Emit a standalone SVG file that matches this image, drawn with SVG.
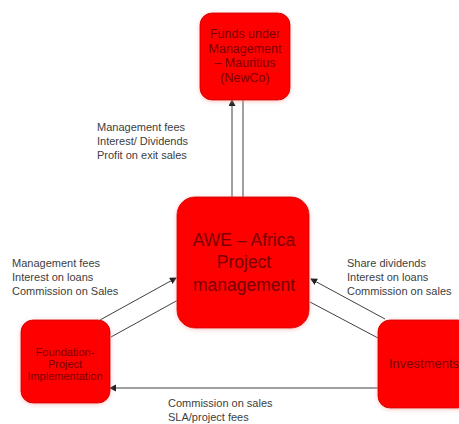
<svg xmlns="http://www.w3.org/2000/svg" width="459" height="424" viewBox="0 0 459 424">
  <style>
    .box { fill: #ff0000; stroke: #d40000; stroke-width: 1; filter: url(#glow); }
    .ntext { font-family: "Liberation Sans", Arial, sans-serif; fill: #7a0000; text-anchor: middle; }
    .label { font-family: "Liberation Sans", Arial, sans-serif; font-size: 11px; fill: #404040; }
    .conn { stroke: #404040; stroke-width: 1; fill: none; }
  </style>
  <defs>
    <filter id="glow" x="-20%" y="-20%" width="140%" height="140%">
      <feGaussianBlur in="SourceAlpha" stdDeviation="2"/>
      <feOffset dx="0" dy="1" result="b"/>
      <feFlood flood-color="#ff9a9a" flood-opacity="0.6"/>
      <feComposite in2="b" operator="in"/>
      <feMerge><feMergeNode/><feMergeNode in="SourceGraphic"/></feMerge>
    </filter>
    <marker id="arrow" markerWidth="8" markerHeight="8" refX="6" refY="3.5" orient="auto" markerUnits="userSpaceOnUse">
      <path d="M0,0 L7,3.5 L0,7 Z" fill="#202020"/>
    </marker>
  </defs>
  <rect width="459" height="424" fill="#ffffff"/>

  <g id="connectors">
    <line class="conn" x1="232" y1="197" x2="232" y2="100" marker-end="url(#arrow)"/>
    <line class="conn" x1="243" y1="100" x2="243" y2="197"/>
    <line class="conn" x1="100" y1="320" x2="176" y2="278" marker-end="url(#arrow)"/>
    <line class="conn" x1="178" y1="300" x2="111" y2="337"/>
    <line class="conn" x1="385" y1="319" x2="311" y2="279" marker-end="url(#arrow)"/>
    <line class="conn" x1="310" y1="302" x2="378" y2="338"/>
    <line class="conn" x1="378" y1="388" x2="110" y2="388" marker-end="url(#arrow)"/>
  </g>

  <g id="labels">
    <text class="label" x="97" y="131">Management fees</text>
    <text class="label" x="97" y="145">Interest/ Dividends</text>
    <text class="label" x="97" y="159">Profit on exit sales</text>
    <text class="label" x="12" y="267">Management fees</text>
    <text class="label" x="12" y="281">Interest on loans</text>
    <text class="label" x="12" y="295">Commission on Sales</text>
    <text class="label" x="347" y="267">Share dividends</text>
    <text class="label" x="347" y="281">Interest on loans</text>
    <text class="label" x="347" y="295">Commission on sales</text>
    <text class="label" x="168" y="407">Commission on sales</text>
    <text class="label" x="168" y="421">SLA/project fees</text>
  </g>

  <g id="node-funds">
    <rect class="box" x="200" y="13" width="90" height="87" rx="12"/>
    <text class="ntext" font-size="12.5" x="245" y="38">Funds under</text>
    <text class="ntext" font-size="12.5" x="245" y="53">Management</text>
    <text class="ntext" font-size="12.5" x="245" y="67">– Mauritius</text>
    <text class="ntext" font-size="12.5" x="245" y="82">(NewCo)</text>
  </g>

  <g id="node-awe">
    <rect class="box" x="177" y="197" width="132" height="131" rx="18"/>
    <text class="ntext" font-size="17.5" x="244" y="246">AWE – Africa</text>
    <text class="ntext" font-size="17.5" x="244" y="268">Project</text>
    <text class="ntext" font-size="17.5" x="244" y="291">management</text>
  </g>

  <g id="node-foundation">
    <rect class="box" x="21" y="320" width="89" height="83" rx="12"/>
    <text class="ntext" font-size="11" x="65" y="356">Foundation-</text>
    <text class="ntext" font-size="11" x="65" y="368">Project</text>
    <text class="ntext" font-size="11" x="65" y="380">Implementation</text>
  </g>

  <g id="node-investments">
    <rect class="box" x="378" y="320" width="92" height="88" rx="12"/>
    <text class="ntext" font-size="13" x="424" y="368">Investments</text>
  </g>
</svg>
